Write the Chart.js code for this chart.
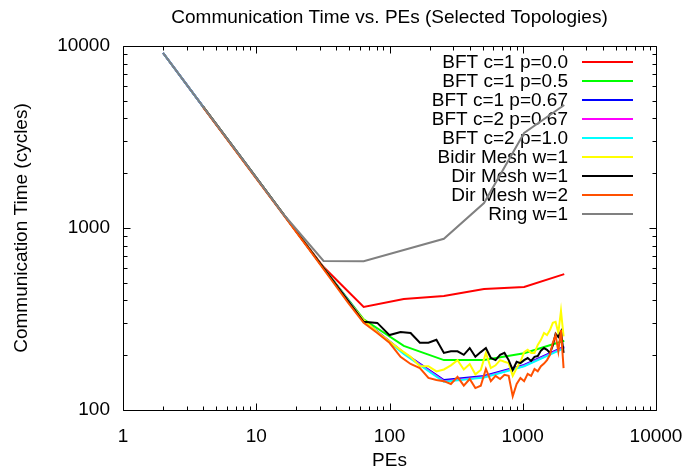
<!DOCTYPE html>
<html>
<head>
<meta charset="utf-8">
<script src="https://cdn.jsdelivr.net/npm/chart.js@4.4.1/dist/chart.umd.min.js"></script>
<style>
  html, body { margin: 0; padding: 0; background: #fff; }
  #wrap { width: 688px; height: 472px; }
</style>
</head>
<body>
<div id="wrap"><canvas id="chart"></canvas></div>
<script>
// PE counts: BFT / ring runs use powers of two, meshes use n x n grids
const pesPow2 = [2, 4, 8, 16, 32, 64, 128, 256, 512, 1024, 2048];
const pesMesh = [4, 9, 16, 25, 36, 49, 64, 81, 100, 121, 144, 169, 196, 225, 256, 289,
  324, 361, 400, 441, 484, 529, 576, 625, 676, 729, 784, 841, 900, 961, 1024, 1089,
  1156, 1225, 1296, 1369, 1444, 1521, 1600, 1681, 1764, 1849, 1936, 2025];

// communication time (cycles)
const bftC1P00 = [9150, 4635, 2350, 1190, 610, 368, 407, 423, 462, 474, 558];
const bftC1P05 = [9150, 4635, 2350, 1190, 603, 315, 225, 188, 188, 205, 240];
const bftC1P067 = [9150, 4635, 2350, 1190, 603, 310, 206, 146, 154, 177, 223];
const bftC2P067 = [9150, 4635, 2350, 1190, 603, 309, 205, 144, 152, 175, 221];
const bftC2P10 = [9150, 4635, 2350, 1190, 603, 308, 203, 143, 151, 174, 219];
const ringW1 = [9150, 4635, 2350, 1190, 659, 656, 757, 872, 1371, 3325, 4740];

const bidirMeshW1 = [4635, 2092, 1190, 768, 537, 395, 312, 268, 238, 214, 196, 174, 174,
  163, 167, 176, 188, 167, 179, 157, 166, 206, 170, 176, 188, 184, 181, 154, 170, 184,
  208, 214, 206, 206, 228, 243, 265, 258, 275, 301, 305, 265, 350, 254];
const dirMeshW1 = [4635, 2092, 1190, 768, 537, 397, 305, 301, 258, 268, 265, 234, 234,
  243, 206, 210, 210, 201, 219, 196, 208, 219, 193, 188, 201, 206, 188, 166, 184, 181,
  188, 193, 186, 196, 198, 212, 219, 214, 206, 226, 262, 252, 270, 206];
const dirMeshW2 = [4600, 2070, 1180, 760, 528, 388, 301, 265, 234, 196, 179, 170, 150,
  146, 144, 139, 152, 136, 148, 132, 136, 168, 144, 154, 148, 156, 154, 119, 139, 150,
  144, 158, 154, 168, 163, 174, 180, 188, 201, 234, 258, 210, 275, 170];

const xTickVals = [1, 10, 100, 1000, 10000];
const yTickVals = [100, 1000, 10000];

const titleText = 'Communication Time vs. PEs (Selected Topologies)';
const FONT = '"Liberation Sans", Arial, sans-serif';
const fontSize = 19;

const series = [
  { label: 'BFT c=1 p=0.0', color: '#ff0000', xs: pesPow2, ys: bftC1P00 },
  { label: 'BFT c=1 p=0.5', color: '#00ff00', xs: pesPow2, ys: bftC1P05 },
  { label: 'BFT c=1 p=0.67', color: '#0000ff', xs: pesPow2, ys: bftC1P067 },
  { label: 'BFT c=2 p=0.67', color: '#ff00ff', xs: pesPow2, ys: bftC2P067 },
  { label: 'BFT c=2 p=1.0', color: '#00ffff', xs: pesPow2, ys: bftC2P10 },
  { label: 'Bidir Mesh w=1', color: '#ffff00', xs: pesMesh, ys: bidirMeshW1 },
  { label: 'Dir Mesh w=1', color: '#000000', xs: pesMesh, ys: dirMeshW1 },
  { label: 'Dir Mesh w=2', color: '#ff5000', xs: pesMesh, ys: dirMeshW2 },
  { label: 'Ring w=1', color: '#808080', xs: pesPow2, ys: ringW1 }
];

// gnuplot style frame with inward ticks on all four sides, title over the plot
const frame = {
  id: 'frame',
  afterDatasetsDraw(chart) {
    const { ctx, chartArea: a, scales: { x, y } } = chart;
    ctx.save();
    ctx.strokeStyle = '#000';
    ctx.lineWidth = 1;
    ctx.beginPath();
    const L = Math.round(a.left) + 0.5, R = Math.round(a.right) + 0.5;
    const T = Math.round(a.top) + 0.5, B = Math.round(a.bottom) + 0.5;
    ctx.rect(L, T, R - L, B - T);
    for (let d = 1; d <= 10000; d *= 10) {
      for (let m = 1; m <= 9; m++) {
        const v = d * m;
        const len = m === 1 ? 7 : 4;
        if (v <= 10000) {
          const px = Math.round(x.getPixelForValue(v)) + 0.5;
          ctx.moveTo(px, B); ctx.lineTo(px, B - len);
          ctx.moveTo(px, T); ctx.lineTo(px, T + len);
        }
        if (v >= 100 && v <= 10000) {
          const py = Math.round(y.getPixelForValue(v)) + 0.5;
          ctx.moveTo(L, py); ctx.lineTo(L + len, py);
          ctx.moveTo(R, py); ctx.lineTo(R - len, py);
        }
      }
    }
    ctx.stroke();

    ctx.fillStyle = '#000';
    ctx.font = fontSize + 'px ' + FONT;
    ctx.textAlign = 'center';
    ctx.textBaseline = 'middle';
    ctx.fillText(titleText, (a.left + a.right) / 2, 18);
    ctx.restore();
  }
};

// key: right aligned text with the line sample to its right
const keyBox = {
  id: 'keyBox',
  beforeDatasetsDraw(chart) {
    const { ctx, chartArea: a } = chart;
    ctx.save();
    ctx.font = fontSize + 'px ' + FONT;
    ctx.textAlign = 'right';
    ctx.textBaseline = 'middle';
    chart.data.datasets.forEach((ds, i) => {
      const yy = a.top + 16 + i * 19;
      ctx.fillStyle = '#000';
      ctx.fillText(ds.label, a.right - 88, yy + 1);
      ctx.strokeStyle = ds.borderColor;
      ctx.lineWidth = 2;
      ctx.beginPath();
      ctx.moveTo(a.right - 74, yy);
      ctx.lineTo(a.right - 23, yy);
      ctx.stroke();
    });
    ctx.restore();
  }
};

new Chart(document.getElementById('chart'), {
  type: 'line',
  data: {
    datasets: series.map((s, i) => ({
      label: s.label,
      data: s.xs.map((x, j) => ({ x: x, y: s.ys[j] })),
      borderColor: s.color,
      backgroundColor: s.color,
      borderWidth: 2,
      pointRadius: 0,
      tension: 0,
      fill: false,
      order: 20 - i
    }))
  },
  options: {
    responsive: true,
    maintainAspectRatio: false,
    animation: false,
    devicePixelRatio: 1,
    layout: { padding: { left: 0, right: 32, top: 46, bottom: 0 } },
    plugins: {
      legend: { display: false },
      tooltip: { enabled: false },
      title: { display: false }
    },
    scales: {
      x: {
        type: 'logarithmic',
        position: 'bottom',
        min: 1,
        max: 10000,
        grid: { display: false, drawTicks: false },
        border: { display: false },
        afterBuildTicks: (s) => { s.ticks = xTickVals.map(v => ({ value: v })); },
        afterFit: (s) => { s.height = 62; s.paddingLeft = 0; s.paddingRight = 0; },
        ticks: {
          color: '#000',
          padding: 15,
          autoSkip: false,
          maxRotation: 0,
          font: { family: FONT, size: fontSize },
          callback: (v) => String(v)
        },
        title: {
          display: true,
          text: 'PEs',
          color: '#000',
          font: { family: FONT, size: fontSize },
          padding: { top: 0, bottom: 0 }
        }
      },
      y: {
        type: 'logarithmic',
        position: 'left',
        min: 100,
        max: 10000,
        grid: { display: false, drawTicks: false },
        border: { display: false },
        afterBuildTicks: (s) => { s.ticks = yTickVals.map(v => ({ value: v })); },
        afterFit: (s) => { s.width = 123; s.paddingTop = 0; s.paddingBottom = 0; },
        ticks: {
          color: '#000',
          padding: 13,
          autoSkip: false,
          font: { family: FONT, size: fontSize },
          callback: (v) => String(v)
        },
        title: {
          display: true,
          text: 'Communication Time (cycles)',
          color: '#000',
          font: { family: FONT, size: fontSize },
          padding: { top: 10, bottom: 0 }
        }
      }
    }
  },
  plugins: [keyBox, frame]
});
</script>
</body>
</html>
